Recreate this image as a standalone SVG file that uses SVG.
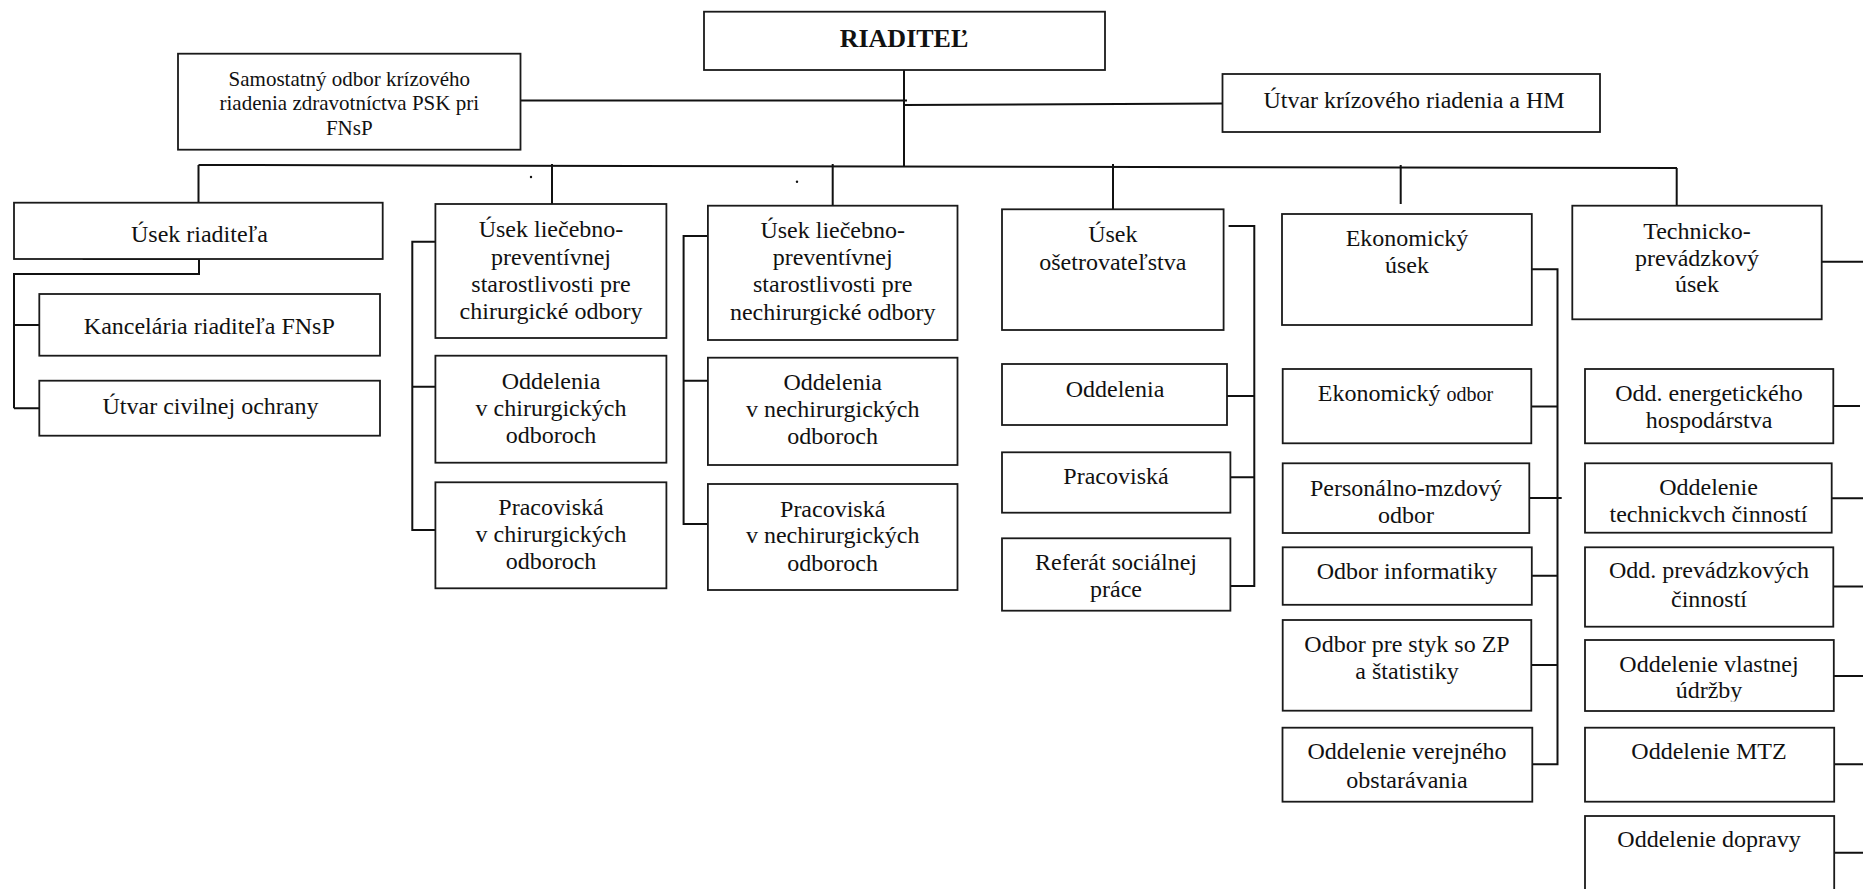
<svg xmlns="http://www.w3.org/2000/svg" width="1863" height="889" viewBox="0 0 1863 889">
<style>
.b{fill:#fff;stroke:#1a1a1a;stroke-width:1.8}
.t{font-family:"Liberation Serif","Times New Roman",serif;font-size:24px;fill:#111;text-anchor:middle}
.s{font-size:21px}
.c{fill:none;stroke:#111;stroke-width:2}
</style>
<defs>
<clipPath id="clipUdr"><rect x="1585" y="640" width="249" height="61.5"/></clipPath>
</defs>
<rect x="0" y="0" width="1863" height="889" fill="#fff"/>

<g id="connectors">
<path class="c" d="M904,70 V166"/>
<path class="c" d="M520.5,100.5 H907"/>
<path class="c" d="M904,105 L1222.5,103.5"/>
<path class="c" d="M198.5,165 L1677,168"/>
<path class="c" d="M198.5,165 V202.7 M552,164 V204 M832.7,164 V205.7 M1113,164 V209.3 M1400.7,165 V204 M1676.7,168 V209.3"/>
<path class="c" d="M82.7,259 H199 V274 H14 V408.3 M14,325 H39.3 M14,408.3 H39.3"/>
<path class="c" d="M435.4,241.7 H412.3 V530 H435.4 M412.3,386.7 H435.4"/>
<path class="c" d="M707.9,236 H683.6 V524 H707.9 M683.6,380.7 H707.9"/>
<path class="c" d="M1228.6,226 H1254.3 V586 H1230.4 M1227,396 H1254.3 M1230.4,477.3 H1254.3"/>
<path class="c" d="M1531.8,269.3 H1557.5 V764.3 H1532.3 M1531.3,406.5 H1557.5 M1529.3,498 H1561.7 M1531.8,575.7 H1557.5 M1531.3,665 H1557.5"/>
<path class="c" d="M1821.7,261.7 H1863 M1833.3,406 H1860 M1831.7,498.3 H1863 M1833.3,586.5 H1863 M1833.8,676 H1863 M1834.2,764.3 H1863 M1834.2,852.7 H1863"/>
<circle cx="531" cy="177" r="1.2" fill="#111"/>
<circle cx="797" cy="181.7" r="1.2" fill="#111"/>
</g>

<g id="riaditel">
<rect class="b" x="704" y="11.7" width="401" height="58.3"/>
<text class="t" x="904" y="47" style="font-weight:bold;font-size:26px">RIADITEĽ</text>
</g>

<g id="samostatny-odbor">
<rect class="b" x="178" y="53.7" width="342.5" height="96"/>
<text class="t s" x="349.3" y="85.5">Samostatný odbor krízového</text>
<text class="t s" x="349.3" y="110">riadenia zdravotníctva PSK pri</text>
<text class="t s" x="349.3" y="134.5">FNsP</text>
</g>

<g id="utvar-krizoveho">
<rect class="b" x="1222.5" y="74" width="377.5" height="58"/>
<text class="t" x="1414" y="108">Útvar krízového riadenia a HM</text>
</g>

<g id="usek-riaditela">
<rect class="b" x="14" y="202.7" width="368.7" height="56.3"/>
<text class="t" x="199.5" y="242">Úsek riaditeľa</text>
</g>
<g id="kancelaria">
<rect class="b" x="39.3" y="294" width="340.7" height="61.7"/>
<text class="t" x="209.3" y="334">Kancelária riaditeľa FNsP</text>
</g>
<g id="utvar-civilnej">
<rect class="b" x="39.3" y="380.7" width="340.7" height="55"/>
<text class="t" x="210.5" y="413.5">Útvar civilnej ochrany</text>
</g>

<g id="usek-chir">
<rect class="b" x="435.4" y="204" width="231" height="134"/>
<text class="t" x="551" y="237">Úsek liečebno-</text>
<text class="t" x="551" y="264.5">preventívnej</text>
<text class="t" x="551" y="291.5">starostlivosti pre</text>
<text class="t" x="551" y="318.5">chirurgické odbory</text>
</g>
<g id="oddelenia-chir">
<rect class="b" x="435.4" y="355.7" width="231" height="107"/>
<text class="t" x="551" y="389">Oddelenia</text>
<text class="t" x="551" y="416">v chirurgických</text>
<text class="t" x="551" y="443.3">odboroch</text>
</g>
<g id="pracoviska-chir">
<rect class="b" x="435.4" y="482.3" width="231" height="106"/>
<text class="t" x="551" y="515">Pracoviská</text>
<text class="t" x="551" y="541.7">v chirurgických</text>
<text class="t" x="551" y="569.3">odboroch</text>
</g>

<g id="usek-nechir">
<rect class="b" x="707.9" y="205.7" width="249.6" height="134.3"/>
<text class="t" x="832.7" y="238">Úsek liečebno-</text>
<text class="t" x="832.7" y="265">preventívnej</text>
<text class="t" x="832.7" y="292">starostlivosti pre</text>
<text class="t" x="832.7" y="319.5">nechirurgické odbory</text>
</g>
<g id="oddelenia-nechir">
<rect class="b" x="707.9" y="357.7" width="249.6" height="107.3"/>
<text class="t" x="832.7" y="390">Oddelenia</text>
<text class="t" x="832.7" y="416.7">v nechirurgických</text>
<text class="t" x="832.7" y="444.3">odboroch</text>
</g>
<g id="pracoviska-nechir">
<rect class="b" x="707.9" y="484" width="249.6" height="106"/>
<text class="t" x="832.7" y="516.7">Pracoviská</text>
<text class="t" x="832.7" y="543.3">v nechirurgických</text>
<text class="t" x="832.7" y="571">odboroch</text>
</g>

<g id="usek-osetrovatelstva">
<rect class="b" x="1002" y="209.3" width="221.6" height="120.7"/>
<text class="t" x="1112.8" y="241.7">Úsek</text>
<text class="t" x="1112.8" y="270">ošetrovateľstva</text>
</g>
<g id="oddelenia-os">
<rect class="b" x="1002" y="364" width="225" height="61"/>
<text class="t" x="1115" y="397.3">Oddelenia</text>
</g>
<g id="pracoviska-os">
<rect class="b" x="1002" y="452.3" width="228.4" height="60.4"/>
<text class="t" x="1116" y="484.3">Pracoviská</text>
</g>
<g id="referat">
<rect class="b" x="1002" y="538.3" width="228.4" height="72.4"/>
<text class="t" x="1116" y="570">Referát sociálnej</text>
<text class="t" x="1116" y="596.7">práce</text>
</g>

<g id="ekonomicky-usek">
<rect class="b" x="1282" y="214" width="249.8" height="111"/>
<text class="t" x="1407" y="246">Ekonomický</text>
<text class="t" x="1407" y="273.3">úsek</text>
</g>
<g id="ekonomicky-odbor">
<rect class="b" x="1282.7" y="369" width="248.6" height="74.3"/>
<text class="t" x="1405.5" y="400.7">Ekonomický <tspan style="font-size:20px">odbor</tspan></text>
</g>
<g id="personalno">
<rect class="b" x="1282.7" y="463.3" width="246.6" height="69.7"/>
<text class="t" x="1406" y="495.7">Personálno-mzdový</text>
<text class="t" x="1406" y="523.3">odbor</text>
</g>
<g id="informatiky">
<rect class="b" x="1282.7" y="547.3" width="249.1" height="57.5"/>
<text class="t" x="1407" y="579">Odbor informatiky</text>
</g>
<g id="styk-zp">
<rect class="b" x="1282.7" y="620" width="248.6" height="90.7"/>
<text class="t" x="1407" y="651.7">Odbor pre styk so ZP</text>
<text class="t" x="1407" y="679">a štatistiky</text>
</g>
<g id="verejne-obstaravanie">
<rect class="b" x="1282.5" y="727.7" width="249.8" height="74"/>
<text class="t" x="1407" y="759.3">Oddelenie verejného</text>
<text class="t" x="1407" y="787.7">obstarávania</text>
</g>

<g id="technicko-prevadzkovy">
<rect class="b" x="1572.3" y="205.7" width="249.4" height="113.6"/>
<text class="t" x="1697" y="238.5">Technicko-</text>
<text class="t" x="1697" y="265.5">prevádzkový</text>
<text class="t" x="1697" y="291.7">úsek</text>
</g>
<g id="energeticke">
<rect class="b" x="1585" y="369" width="248.3" height="74.3"/>
<text class="t" x="1709" y="400.7">Odd. energetického</text>
<text class="t" x="1709" y="428.3">hospodárstva</text>
</g>
<g id="technicke">
<rect class="b" x="1585" y="463.3" width="246.7" height="69.4"/>
<text class="t" x="1708.5" y="495">Oddelenie</text>
<text class="t" x="1708.5" y="521.7">technickvch činností</text>
</g>
<g id="prevadzkove">
<rect class="b" x="1585" y="547.3" width="248.3" height="79.4"/>
<text class="t" x="1709" y="578.3">Odd. prevádzkových</text>
<text class="t" x="1709" y="606.7">činností</text>
</g>
<g id="udrzba">
<rect class="b" x="1585" y="640" width="248.8" height="71"/>
<text class="t" x="1709" y="671.7">Oddelenie vlastnej</text>
<text class="t" x="1709" y="698.3" clip-path="url(#clipUdr)">údržby</text>
</g>
<g id="mtz">
<rect class="b" x="1585" y="727.7" width="249.2" height="74"/>
<text class="t" x="1709" y="759.3">Oddelenie MTZ</text>
</g>
<g id="doprava">
<rect class="b" x="1585" y="816" width="249.2" height="90"/>
<text class="t" x="1709" y="847.3">Oddelenie dopravy</text>
</g>
</svg>
